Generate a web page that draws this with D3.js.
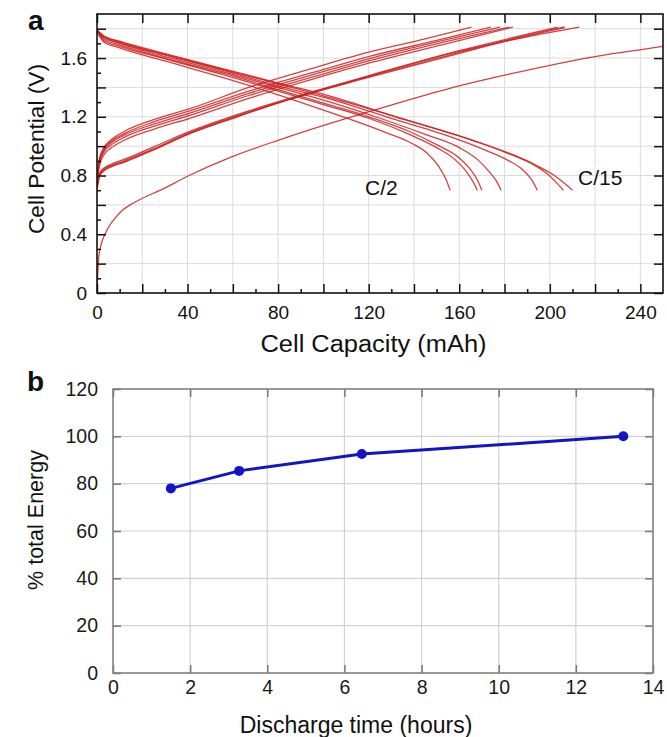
<!DOCTYPE html>
<html>
<head>
<meta charset="utf-8">
<script src="https://cdn.jsdelivr.net/npm/d3@7"></script>
<style>
  html, body { margin: 0; padding: 0; background: #fff; }
  svg { display: block; font-family: "Liberation Sans", Arial, Helvetica, sans-serif; }
</style>
</head>
<body>
<svg id="chart" width="667" height="737"></svg>
<script>
// ---------------- Panel a data: [capacity mAh, potential V] ----------------
const discharge_C2  = [[0,1.78],[3,1.71],[10,1.67],[30,1.58],[55,1.47],[80,1.35],[103,1.23],[116,1.16],[128,1.09],[139,1.02],[146,0.95],[151,0.86],[154,0.78],[156,0.70]];
const discharge_2   = [[0,1.78],[3,1.72],[10,1.68],[30,1.595],[55,1.49],[80,1.375],[103,1.27],[120,1.19],[138,1.08],[150,0.99],[158,0.91],[163,0.83],[166,0.76],[168,0.70]];
const discharge_3   = [[0,1.79],[3,1.73],[10,1.69],[30,1.60],[55,1.50],[80,1.385],[103,1.28],[120,1.20],[138,1.10],[150,1.01],[160,0.92],[165,0.84],[168,0.77],[170,0.70]];
const discharge_4   = [[0,1.79],[3,1.74],[10,1.70],[30,1.61],[55,1.51],[80,1.40],[103,1.30],[125,1.19],[145,1.08],[160,0.99],[168,0.91],[173,0.83],[176.5,0.76],[178.5,0.70]];
const discharge_5   = [[0,1.79],[3,1.745],[10,1.705],[30,1.62],[55,1.52],[80,1.41],[103,1.32],[130,1.19],[155,1.07],[172,0.97],[182,0.90],[188,0.84],[192,0.77],[194.5,0.70]];
const discharge_6   = [[0,1.79],[3,1.75],[10,1.71],[30,1.625],[55,1.525],[80,1.425],[103,1.33],[132,1.20],[160,1.07],[180,0.96],[192,0.88],[199,0.81],[203,0.75],[206,0.70]];
const discharge_C15 = [[0,1.79],[3,1.75],[10,1.715],[30,1.63],[55,1.53],[80,1.43],[103,1.34],[132,1.20],[166,1.04],[184,0.94],[194,0.87],[202,0.80],[207,0.74],[210,0.70]];

const charge_1 = [[0,0.79],[1,0.91],[3,0.99],[6,1.04],[12,1.10],[25,1.18],[41,1.255],[67,1.40],[95,1.53],[120,1.64],[145,1.73],[165.4,1.81]];
const charge_2 = [[0,0.78],[1,0.90],[3,0.98],[6,1.03],[12,1.085],[25,1.165],[41,1.24],[67,1.375],[95,1.50],[120,1.61],[150,1.72],[174,1.81]];
const charge_3 = [[0,0.77],[1,0.89],[3,0.97],[6,1.02],[12,1.075],[25,1.15],[41,1.225],[67,1.36],[95,1.485],[120,1.595],[150,1.71],[178,1.81]];
const charge_4 = [[0,0.76],[1,0.88],[3,0.96],[6,1.005],[12,1.06],[25,1.135],[41,1.21],[67,1.345],[95,1.47],[120,1.58],[155,1.715],[182,1.81]];
const charge_5 = [[0,0.75],[1,0.86],[3,0.94],[6,0.985],[12,1.04],[25,1.115],[41,1.19],[67,1.325],[95,1.455],[120,1.565],[155,1.70],[183.7,1.81]];
const charge_6 = [[0,0.73],[1,0.81],[3,0.85],[6,0.875],[12,0.91],[25,0.995],[41,1.10],[67,1.24],[95,1.37],[120,1.48],[160,1.65],[203.5,1.81]];
const charge_7 = [[0,0.72],[1,0.80],[3,0.84],[6,0.865],[11.5,0.895],[25,0.98],[41,1.09],[61,1.20],[85,1.32],[120,1.47],[160,1.635],[185,1.735],[206.6,1.81]];
const charge_8 = [[0,0.71],[1,0.79],[3,0.83],[6,0.857],[12,0.89],[25,0.975],[41,1.085],[61,1.195],[85,1.318],[120,1.475],[160,1.645],[190,1.745],[213,1.81]];
const charge_first = [[0,0.02],[0.3,0.12],[0.8,0.25],[2,0.34],[3.5,0.40],[6,0.47],[8,0.51],[11,0.56],[14.6,0.60],[20,0.645],[28,0.70],[40,0.795],[60,0.93],[80,1.04],[104,1.16],[130,1.28],[160,1.41],[182,1.49],[220,1.61],[250,1.68],[256,1.695]];

const curvesA = [discharge_C2, discharge_2, discharge_3, discharge_4, discharge_5, discharge_6, discharge_C15,
                 charge_1, charge_2, charge_3, charge_4, charge_5, charge_6, charge_7, charge_8, charge_first];

const xTicksA = [0, 20, 40, 60, 80, 100, 120, 140, 160, 180, 200, 220, 240];
const xLabelsA = [0, 40, 80, 120, 160, 200, 240];
const yTicksA = [0, 0.2, 0.4, 0.6, 0.8, 1.0, 1.2, 1.4, 1.6, 1.8];
const yLabelsA = [0, 0.4, 0.8, 1.2, 1.6];

// ---------------- Panel b data ----------------
const dischargeHours = [1.5, 3.27, 6.45, 13.23];
const totalEnergyPct = [78, 85.4, 92.5, 100];
const xTicksB = [0, 2, 4, 6, 8, 10, 12, 14];
const yTicksB = [0, 20, 40, 60, 80, 100, 120];

// ---------------- Drawing ----------------
const svg = d3.select("#chart");
const FONT_TICK = 19;

// ===== Panel a =====
const xA = d3.scaleLinear().domain([0, 250]).range([97, 663]);
const yA = d3.scaleLinear().domain([0, 1.9]).range([293, 14]);
const gA = svg.append("g");

gA.append("defs").append("clipPath").attr("id", "clipA")
  .append("rect").attr("x", xA(0)).attr("y", yA(1.9)).attr("width", xA(250) - xA(0)).attr("height", yA(0) - yA(1.9));

// grid
gA.append("g").selectAll("line").data(xTicksA.slice(1)).join("line")
  .attr("x1", d => xA(d)).attr("x2", d => xA(d)).attr("y1", yA(0)).attr("y2", yA(1.9))
  .attr("stroke", "#dcdcdc").attr("stroke-width", 1);
gA.append("g").selectAll("line").data(yTicksA.slice(1)).join("line")
  .attr("x1", xA(0)).attr("x2", xA(250)).attr("y1", d => yA(d)).attr("y2", d => yA(d))
  .attr("stroke", "#dcdcdc").attr("stroke-width", 1);

// curves
const lineA = d3.line().x(d => xA(d[0])).y(d => yA(d[1])).curve(d3.curveMonotoneX);
gA.append("g").attr("clip-path", "url(#clipA)")
  .selectAll("path").data(curvesA).join("path")
  .attr("d", lineA).attr("fill", "none")
  .attr("stroke", "#cc2020").attr("stroke-opacity", 0.85)
  .attr("stroke-width", d => (d === charge_7 ? 2.0 : 1.3));

// axes (inward ticks)
function styleAxis(g, color) {
  g.select(".domain").remove();
  g.selectAll(".tick line").attr("stroke", color).attr("stroke-width", 1.5);
  g.selectAll(".tick text").attr("fill", "#111").style("font-size", FONT_TICK + "px")
    .style("font-family", '"Liberation Sans", Arial, Helvetica, sans-serif');
}
const minorX = d3.range(10, 250, 20);
const minorY = d3.range(0.1, 1.9, 0.2);

gA.append("g").attr("transform", `translate(0,${yA(0)})`)
  .call(d3.axisBottom(xA).tickValues(xTicksA).tickSize(-9).tickPadding(13)
    .tickFormat(d => xLabelsA.includes(d) ? d3.format("d")(d) : ""))
  .call(g => styleAxis(g, "#111"));
gA.append("g").attr("transform", `translate(0,${yA(0)})`)
  .call(d3.axisBottom(xA).tickValues(minorX).tickSize(-4).tickFormat(""))
  .call(g => styleAxis(g, "#111"));
gA.append("g").attr("transform", `translate(0,${yA(1.9)})`)
  .call(d3.axisTop(xA).tickValues(xTicksA).tickSize(-9).tickFormat(""))
  .call(g => styleAxis(g, "#111"));
gA.append("g").attr("transform", `translate(${xA(0)},0)`)
  .call(d3.axisLeft(yA).tickValues(yTicksA).tickSize(-9).tickPadding(10)
    .tickFormat(d => yLabelsA.some(v => Math.abs(v - d) < 1e-9) ? (d === 0 ? "0" : d3.format(".1f")(d)) : ""))
  .call(g => styleAxis(g, "#111"));
gA.append("g").attr("transform", `translate(${xA(0)},0)`)
  .call(d3.axisLeft(yA).tickValues(minorY).tickSize(-4).tickFormat(""))
  .call(g => styleAxis(g, "#111"));
gA.append("g").attr("transform", `translate(${xA(250)},0)`)
  .call(d3.axisRight(yA).tickValues(yTicksA).tickSize(-9).tickFormat(""))
  .call(g => styleAxis(g, "#111"));

// frame
gA.append("rect").attr("x", xA(0)).attr("y", yA(1.9)).attr("width", xA(250) - xA(0)).attr("height", yA(0) - yA(1.9))
  .attr("fill", "none").attr("stroke", "#111").attr("stroke-width", 1.6);

// labels
gA.append("text").attr("x", 365).attr("y", 195).style("font-size", "21px").attr("fill", "#111").text("C/2");
gA.append("text").attr("x", 578).attr("y", 185).style("font-size", "21px").attr("fill", "#111").text("C/15");
gA.append("text").attr("x", 373.5).attr("y", 352).attr("text-anchor", "middle").style("font-size", "23px")
  .attr("textLength", 226).attr("lengthAdjust", "spacingAndGlyphs").attr("fill", "#111").text("Cell Capacity (mAh)");
gA.append("text").attr("transform", "translate(44,149) rotate(-90)").attr("text-anchor", "middle")
  .style("font-size", "22px").attr("textLength", 170).attr("lengthAdjust", "spacingAndGlyphs")
  .attr("fill", "#111").text("Cell Potential (V)");
gA.append("text").attr("x", 28).attr("y", 30).style("font-size", "28px").style("font-weight", "bold")
  .attr("fill", "#111").text("a");

// ===== Panel b =====
const xB = d3.scaleLinear().domain([0, 14]).range([113, 653]);
const yB = d3.scaleLinear().domain([0, 120]).range([673, 389]);
const gB = svg.append("g");

gB.append("g").selectAll("line").data(xTicksB.slice(1, -1)).join("line")
  .attr("x1", d => xB(d)).attr("x2", d => xB(d)).attr("y1", yB(0)).attr("y2", yB(120))
  .attr("stroke", "#d2d2d2").attr("stroke-width", 1.2);
gB.append("g").selectAll("line").data(yTicksB.slice(1, -1)).join("line")
  .attr("x1", xB(0)).attr("x2", xB(14)).attr("y1", d => yB(d)).attr("y2", d => yB(d))
  .attr("stroke", "#d2d2d2").attr("stroke-width", 1.2);

gB.append("g").attr("transform", `translate(0,${yB(0)})`)
  .call(d3.axisBottom(xB).tickValues(xTicksB).tickSize(-8).tickPadding(7).tickFormat(d3.format("d")))
  .call(g => styleAxis(g, "#777"));
gB.append("g").attr("transform", `translate(0,${yB(120)})`)
  .call(d3.axisTop(xB).tickValues(xTicksB).tickSize(-8).tickFormat(""))
  .call(g => styleAxis(g, "#777"));
gB.append("g").attr("transform", `translate(${xB(0)},0)`)
  .call(d3.axisLeft(yB).tickValues(yTicksB).tickSize(-8).tickPadding(15).tickFormat(d3.format("d")))
  .call(g => styleAxis(g, "#777"));
gB.append("g").attr("transform", `translate(${xB(14)},0)`)
  .call(d3.axisRight(yB).tickValues(yTicksB).tickSize(-8).tickFormat(""))
  .call(g => styleAxis(g, "#777"));
gB.selectAll(".tick text").style("font-size", "19.5px").attr("fill", "#1a1a1a");

gB.append("rect").attr("x", xB(0)).attr("y", yB(120)).attr("width", xB(14) - xB(0)).attr("height", yB(0) - yB(120))
  .attr("fill", "none").attr("stroke", "#808080").attr("stroke-width", 1.6);

const ptsB = dischargeHours.map((h, i) => [h, totalEnergyPct[i]]);
gB.append("path").datum(ptsB)
  .attr("d", d3.line().x(d => xB(d[0])).y(d => yB(d[1])))
  .attr("fill", "none").attr("stroke", "#1414c4").attr("stroke-width", 3);
gB.append("g").selectAll("circle").data(ptsB).join("circle")
  .attr("cx", d => xB(d[0])).attr("cy", d => yB(d[1])).attr("r", 5)
  .attr("fill", "#1414c4");

gB.append("text").attr("x", 356).attr("y", 733).attr("text-anchor", "middle").style("font-size", "23px")
  .attr("fill", "#111").text("Discharge time (hours)");
gB.append("text").attr("transform", "translate(43,520) rotate(-90)").attr("text-anchor", "middle")
  .style("font-size", "21.5px").attr("fill", "#111").text("% total Energy");
gB.append("text").attr("x", 27).attr("y", 391).style("font-size", "28px").style("font-weight", "bold")
  .attr("fill", "#111").text("b");
</script>
</body>
</html>
